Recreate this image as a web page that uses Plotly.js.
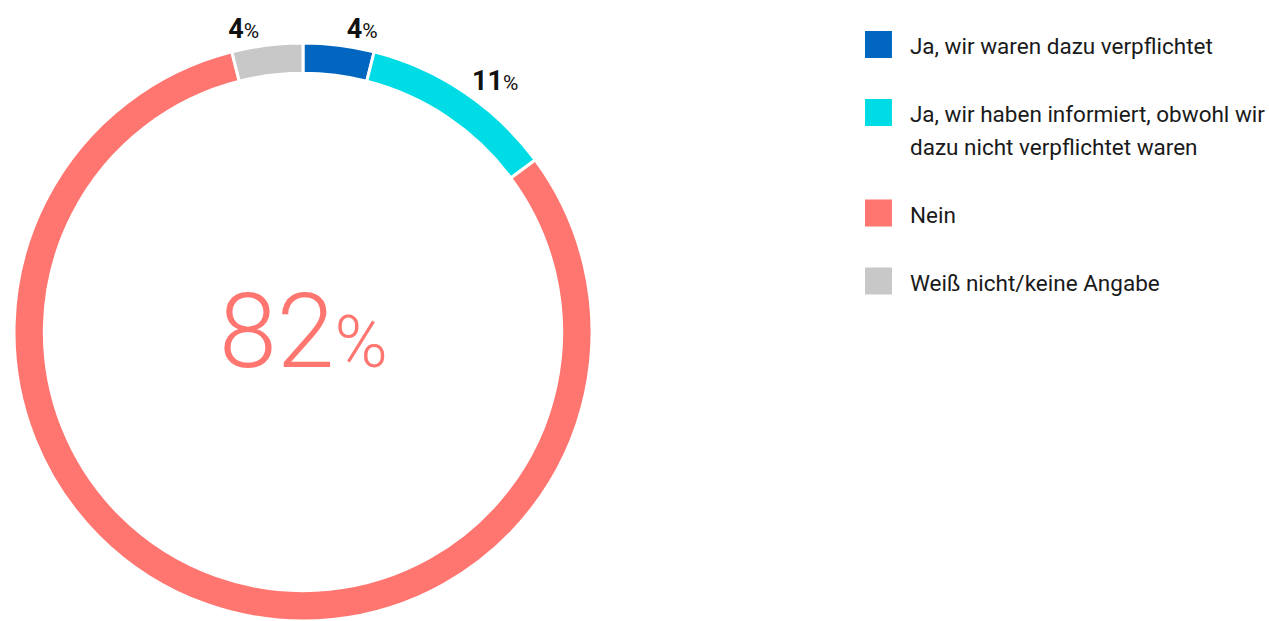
<!DOCTYPE html>
<html>
<head>
<meta charset="utf-8">
<script src="https://cdn.plot.ly/plotly-3.0.1.min.js"></script>
<style>html,body{margin:0;padding:0;background:#fff;}#chart{width:1269px;height:621px;}</style>
</head>
<body>
<div id="chart"></div>
<script>
const categories = [
  "Ja, wir waren dazu verpflichtet",
  "Ja, wir haben informiert, obwohl wir<br>dazu nicht verpflichtet waren",
  "Nein",
  "Weiß nicht/keine Angabe"
];
const values = [4, 11, 82, 4];
const colors = ["#0066BF", "#00DCE6", "#FF7670", "#C8C8C8"];
const centerIndex = 2;

const FONT = "Roboto, 'Noto Sans', sans-serif";

const legendLabels = categories.map(c => "<span style='font-size:22.5px'>" + c + "</span><br> ");
const textpos = values.map((v, i) => i === centerIndex ? "none" : "outside");

const pieDomain = { x: [12 / 1269, 594 / 1269], y: [0, 578 / 621] };

const trace = {
  type: "pie",
  labels: legendLabels,
  values: values,
  sort: false,
  direction: "clockwise",
  rotation: 0,
  hole: 0.895,
  marker: { colors: colors, line: { color: "#ffffff", width: 3 } },
  textposition: textpos,
  texttemplate: "<b>%{value}</b><span style='font-size:21px'>%</span>",
  textfont: { family: FONT, size: 27, color: "#111111" },
  outsidetextfont: { family: FONT, size: 27, color: "#111111" },
  hoverinfo: "none",
  domain: pieDomain
};

const layout = {
  width: 1269,
  height: 621,
  margin: { l: 0, r: 0, t: 0, b: 0, autoexpand: false },
  paper_bgcolor: "#ffffff",
  showlegend: true,
  legend: {
    x: 0.6816, y: 0.965, xanchor: "left", yanchor: "top",
    valign: "top",
    itemwidth: 35,
    font: { family: FONT, size: 25, color: "#1a1a1a" },
    bgcolor: "rgba(0,0,0,0)"
  },
  annotations: [{
    xref: "paper", yref: "paper",
    x: (pieDomain.x[0] + pieDomain.x[1]) / 2,
    y: (pieDomain.y[0] + pieDomain.y[1]) / 2,
    xanchor: "center", yanchor: "middle",
    showarrow: false,
    text: values[centerIndex] + "<span style='font-size:72px'>%</span>",
    font: { family: FONT, size: 104, color: colors[centerIndex], weight: 300 }
  }]
};

Plotly.newPlot("chart", [trace], layout, { displayModeBar: false, staticPlot: true }).then(function (gd) {
  document.querySelectorAll("g.legendpoints path.legendpie").forEach(function (p) {
    p.setAttribute("d", "M13.5,13.5H-13.5V-13.5H13.5Z");
    p.setAttribute("transform", "translate(13.5,0)");
    p.style.setProperty("stroke-width", "0px", "important");
    p.style.setProperty("stroke", "none", "important");
  });
});
</script>
</body>
</html>
